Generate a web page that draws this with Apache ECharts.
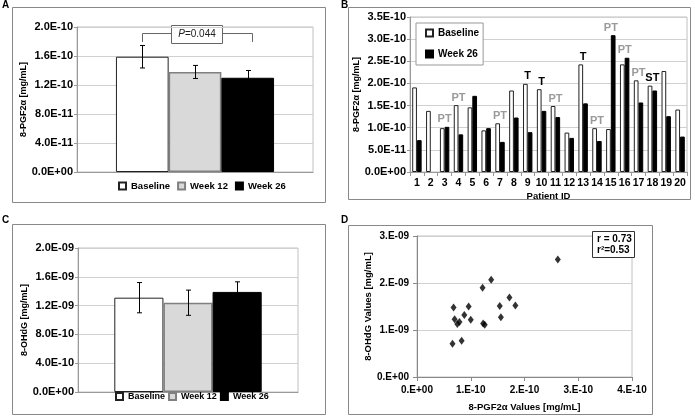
<!DOCTYPE html>
<html>
<head>
<meta charset="utf-8">
<script src="https://cdn.jsdelivr.net/npm/echarts@6/dist/echarts.min.js"></script>
<style>
html,body{margin:0;padding:0;background:#fff;}
#c{width:695px;height:416px;}
</style>
</head>
<body>
<div id="c"></div>
<script>
// ---- Panel A: 8-PGF2α by visit ----
const aGroups = ['Baseline', 'Week 12', 'Week 26'];
const aMean = [1.59e-10, 1.38e-10, 1.30e-10];
const aErr = [0.155e-10, 0.09e-10, 0.10e-10];
const aPText = 'P=0.044';

// ---- Panel B: per patient ----
const bPatients = ['1','2','3','4','5','6','7','8','9','10','11','12','13','14','15','16','17','18','19','20'];
const bBaseline = [1.91e-10, 1.38e-10, 0.99e-10, 1.51e-10, 1.46e-10, 0.94e-10, 1.10e-10, 1.84e-10, 1.99e-10, 1.87e-10,
                   1.49e-10, 0.89e-10, 2.43e-10, 0.99e-10, 0.97e-10, 2.43e-10, 2.07e-10, 1.95e-10, 2.28e-10, 1.41e-10];
const bWeek26 = [0.72e-10, null, 1.02e-10, 0.85e-10, 1.72e-10, 0.99e-10, 0.68e-10, 1.23e-10, 0.90e-10, 1.38e-10,
                 1.24e-10, 0.77e-10, 1.55e-10, 0.70e-10, 3.09e-10, 2.58e-10, 1.57e-10, 1.84e-10, 1.26e-10, 0.80e-10];
const bNotes = ['', '', 'PT', 'PT', '', '', 'PT', '', 'T', 'T', 'PT', '', 'T', 'PT', 'PT', 'PT', 'PT', 'ST', '', ''];

// ---- Panel C: 8-OHdG by visit ----
const cGroups = ['Baseline', 'Week 12', 'Week 26'];
const cMean = [1.31e-9, 1.24e-9, 1.39e-9];
const cErr = [0.21e-9, 0.175e-9, 0.14e-9];

// ---- Panel D: correlation ----
const dX = [0.66e-10, 0.68e-10, 0.70e-10, 0.75e-10, 0.79e-10, 0.83e-10, 0.88e-10, 0.96e-10, 1.00e-10, 1.22e-10,
            1.23e-10, 1.26e-10, 1.38e-10, 1.54e-10, 1.56e-10, 1.72e-10, 1.83e-10, 2.62e-10];
const dY = [0.71e-9, 1.48e-9, 1.23e-9, 1.13e-9, 1.17e-9, 0.77e-9, 1.32e-9, 1.50e-9, 1.22e-9, 1.90e-9,
            1.14e-9, 1.11e-9, 2.07e-9, 1.51e-9, 1.27e-9, 1.69e-9, 1.52e-9, 2.50e-9];
const dStats = ['r = 0.73', 'r\u00B2=0.53'];

const FONT = '"Liberation Sans", Arial, sans-serif';
function padExp(s){ return s.toUpperCase().replace(/E([+-])(\d)$/, function(m,a,b){return 'E'+a+'0'+b;}); }
function sci1(v){ return padExp(Number(v).toExponential(1)); }
function sci0(v){ return padExp(Number(v).toExponential(0)).replace(/^(\d)E/, '$1.E'); }

const styles = {
  'Baseline': {color:'#ffffff', borderColor:'#222', borderWidth:1},
  'Week 12': {color:'#d9d9d9', borderColor:'#808080', borderWidth:1.5},
  'Week 26': {color:'#000000', borderColor:'#000', borderWidth:1}
};

const lbl = {fontFamily:FONT, fontWeight:'bold', fontSize:11, color:'#000'};
const nameStyle = {fontFamily:FONT, fontWeight:'bold', fontSize:9, color:'#000'};
const gridLine = {show:true, lineStyle:{color:'#d0d0d0', width:1}};
const axLine = {show:true, lineStyle:{color:'#999', width:1}};

function errSeries(name, xi, yi, mean, err, n) {
  return {
    type:'custom', name:name, xAxisIndex:xi, yAxisIndex:yi, z:5, silent:true,
    data: mean.map((m,i)=>[i, m, err[i]]),
    renderItem: function(params, api){
      const i = api.value(0);
      const band = api.size([1,0])[0];
      const w = band*(1-0.33)/n;
      const top = api.coord([0, api.value(1)+api.value(2)]);
      const bot = api.coord([0, api.value(1)-api.value(2)]);
      const x = Math.round(top[0] + (i-(n-1)/2)*w) + 0.5;
      const cap = 2.5;
      return {type:'group', children:[
        {type:'line', shape:{x1:x, y1:top[1], x2:x, y2:bot[1]}, style:{stroke:'#000', lineWidth:1}},
        {type:'line', shape:{x1:x-cap, y1:top[1], x2:x+cap, y2:top[1]}, style:{stroke:'#000', lineWidth:1}},
        {type:'line', shape:{x1:x-cap, y1:bot[1], x2:x+cap, y2:bot[1]}, style:{stroke:'#000', lineWidth:1}}
      ]};
    }
  };
}

const series = [];
aGroups.forEach((g,i)=>{
  series.push({type:'bar', name:g, xAxisIndex:0, yAxisIndex:0, data:[aMean[i]],
    barGap:'0%', barCategoryGap:'33%', itemStyle:styles[g]});
});
series.push(errSeries('errA', 0, 0, aMean, aErr, 3));

series.push({type:'bar', name:'Baseline', xAxisIndex:1, yAxisIndex:1, data:bBaseline,
  barGap:'0%', barCategoryGap:'32%', itemStyle:styles['Baseline']});
series.push({type:'bar', name:'Week 26', xAxisIndex:1, yAxisIndex:1, data:bWeek26,
  barGap:'0%', barCategoryGap:'32%', itemStyle:styles['Week 26']});
series.push({type:'custom', name:'notes', xAxisIndex:1, yAxisIndex:1, z:6, silent:true,
  data: bNotes.map((t,i)=>[i, Math.max(bBaseline[i]||0, bWeek26[i]||0), t]),
  renderItem: function(params, api){
    const t = bNotes[params.dataIndex];
    if(!t) return null;
    const p = api.coord([api.value(0), api.value(1)]);
    return {type:'text', x:p[0], y:p[1]-2, style:{text:t, textAlign:'center', textVerticalAlign:'bottom',
      fontFamily:FONT, fontWeight:'bold', fontSize:11, fill: t==='PT' ? '#9a9a9a' : '#000'}};
  }
});

cGroups.forEach((g,i)=>{
  series.push({type:'bar', name:g, xAxisIndex:2, yAxisIndex:2, data:[cMean[i]],
    barGap:'0%', barCategoryGap:'33%', itemStyle:styles[g]});
});
series.push(errSeries('errC', 2, 2, cMean, cErr, 3));

series.push({type:'scatter', name:'corr', xAxisIndex:3, yAxisIndex:3, symbol:'diamond', symbolSize:[6,8],
  itemStyle:{color:'#000'}, data:dX.map((x,i)=>[x, dY[i]])});

function legendBase(fs){
  return {icon:'rect', itemWidth:7, itemHeight:7, selectedMode:false,
    textStyle:{fontFamily:FONT, fontWeight:'bold', fontSize:fs, color:'#000'}};
}

const option = {
  animation:false,
  backgroundColor:'#fff',
  grid:[
    {left:77, right:382, top:27, bottom:244, show:true, borderColor:'#c0c0c0', borderWidth:1},
    {left:410, right:8, top:17, bottom:244, show:true, borderColor:'#c0c0c0', borderWidth:1},
    {left:78, right:397, top:248, bottom:24, show:true, borderColor:'#c0c0c0', borderWidth:1},
    {left:417, right:63, top:236, bottom:39, show:true, borderColor:'#c0c0c0', borderWidth:1}
  ],
  xAxis:[
    {gridIndex:0, type:'category', data:[''], axisLine:axLine, axisTick:{show:false}, axisLabel:{show:false}},
    {gridIndex:1, type:'category', data:bPatients, axisLine:axLine,
      axisTick:{show:true, length:4, lineStyle:{color:'#999'}},
      axisLabel:Object.assign({margin:6, interval:0}, lbl, {fontSize:10.5}),
      name:'Patient ID', nameLocation:'middle', nameGap:19, nameTextStyle:Object.assign({}, lbl, {fontSize:9.5})},
    {gridIndex:2, type:'category', data:[''], axisLine:axLine, axisTick:{show:false}, axisLabel:{show:false}},
    {gridIndex:3, type:'value', min:0, max:4e-10, interval:1e-10, axisLine:{show:true, lineStyle:{color:'#888'}},
      axisTick:{show:true, length:4, lineStyle:{color:'#888'}}, splitLine:{show:false},
      axisLabel:Object.assign({margin:8, formatter:sci0}, lbl, {fontSize:10}),
      name:'8-PGF2\u03B1 Values [mg/mL]', nameLocation:'middle', nameGap:25, nameTextStyle:Object.assign({}, nameStyle, {fontSize:9.5})}
  ],
  yAxis:[
    {gridIndex:0, type:'value', min:0, max:2e-10, interval:4e-11, axisLine:axLine,
      axisTick:{show:true, length:3, lineStyle:{color:'#999'}}, splitLine:gridLine,
      axisLabel:Object.assign({margin:4, formatter:sci1}, lbl),
      name:'8-PGF2\u03B1 [mg/mL]', nameLocation:'middle', nameGap:40, nameTextStyle:nameStyle},
    {gridIndex:1, type:'value', min:0, max:3.5e-10, interval:5e-11, axisLine:axLine,
      axisTick:{show:true, length:3, lineStyle:{color:'#999'}}, splitLine:gridLine,
      axisLabel:Object.assign({margin:4, formatter:sci1}, lbl),
      name:'8-PGF2\u03B1 [mg/mL]', nameLocation:'middle', nameGap:32, nameTextStyle:nameStyle},
    {gridIndex:2, type:'value', min:0, max:2e-9, interval:4e-10, axisLine:axLine,
      axisTick:{show:true, length:3, lineStyle:{color:'#999'}}, splitLine:gridLine,
      axisLabel:Object.assign({margin:4, formatter:sci1}, lbl),
      name:'8-OHdG [mg/mL]', nameLocation:'middle', nameGap:38, nameTextStyle:nameStyle},
    {gridIndex:3, type:'value', min:0, max:3e-9, interval:1e-9, axisLine:{show:true, lineStyle:{color:'#888'}},
      axisTick:{show:true, length:4, lineStyle:{color:'#888'}}, splitLine:gridLine,
      axisLabel:Object.assign({margin:8, formatter:sci0}, lbl, {fontSize:10}),
      name:'8-OHdG Values [mg/mL]', nameLocation:'middle', nameGap:35, nameTextStyle:Object.assign({}, nameStyle, {fontSize:9.5})}
  ],
  legend:[
    Object.assign(legendBase(9.5), {data:aGroups, left:113, top:176, itemGap:7}),
    Object.assign(legendBase(10), {data:['Baseline','Week 26'], orient:'vertical', left:416, top:23, itemGap:11,
      padding:[5,4,6,9], backgroundColor:'#fff', borderColor:'#999', borderWidth:1}),
    Object.assign(legendBase(9), {data:cGroups, left:110, top:387, itemGap:3})
  ],
  series:series,
  graphic:[
    {type:'rect', shape:{x:12.5, y:7.5, width:313, height:195}, style:{fill:'none', stroke:'#888', lineWidth:1}, silent:true},
    {type:'rect', shape:{x:348.5, y:7.5, width:342, height:192}, style:{fill:'none', stroke:'#888', lineWidth:1}, silent:true},
    {type:'rect', shape:{x:12.5, y:224.5, width:313, height:190}, style:{fill:'none', stroke:'#888', lineWidth:1}, silent:true},
    {type:'rect', shape:{x:348.5, y:225.5, width:304, height:189}, style:{fill:'none', stroke:'#888', lineWidth:1}, silent:true},
    {type:'text', left:2, top:0, style:{text:'A', font:'bold 10px '+FONT, fill:'#000'}},
    {type:'text', left:341, top:0, style:{text:'B', font:'bold 10px '+FONT, fill:'#000'}},
    {type:'text', left:2, top:215, style:{text:'C', font:'bold 10px '+FONT, fill:'#000'}},
    {type:'text', left:341, top:215, style:{text:'D', font:'bold 10px '+FONT, fill:'#000'}},
    // P-value bracket (annotation)
    {type:'polyline', shape:{points:[[142.5,42],[142.5,33.5],[171,33.5]]}, style:{stroke:'#666', lineWidth:1, fill:'none'}, silent:true},
    {type:'polyline', shape:{points:[[222,33.5],[252.5,33.5],[252.5,42]]}, style:{stroke:'#666', lineWidth:1, fill:'none'}, silent:true},
    {type:'rect', shape:{x:171.5, y:25.5, width:51, height:18}, style:{fill:'#fff', stroke:'#666', lineWidth:1}, silent:true},
    {type:'text', x:197, y:34.5, style:{text:'{i|P}'+aPText.slice(1), textAlign:'center', textVerticalAlign:'middle',
      font:'10px '+FONT, fill:'#222', rich:{i:{fontStyle:'italic', fontFamily:FONT, fontSize:10, fill:'#222'}}}, silent:true},
    // correlation box
    {type:'rect', shape:{x:592.5, y:231.5, width:42, height:26}, style:{fill:'#fff', stroke:'#333', lineWidth:1}, silent:true, z:10},
    {type:'text', x:597, y:239, z:11, style:{text:dStats[0], textVerticalAlign:'middle', font:'bold 10px '+FONT, fill:'#000'}, silent:true},
    {type:'text', x:597, y:250, z:11, style:{text:dStats[1], textVerticalAlign:'middle', font:'bold 10px '+FONT, fill:'#000'}, silent:true}
  ]
};

const chart = echarts.init(document.getElementById('c'), null, {renderer:'canvas'});
chart.setOption(option);
</script>
</body>
</html>
